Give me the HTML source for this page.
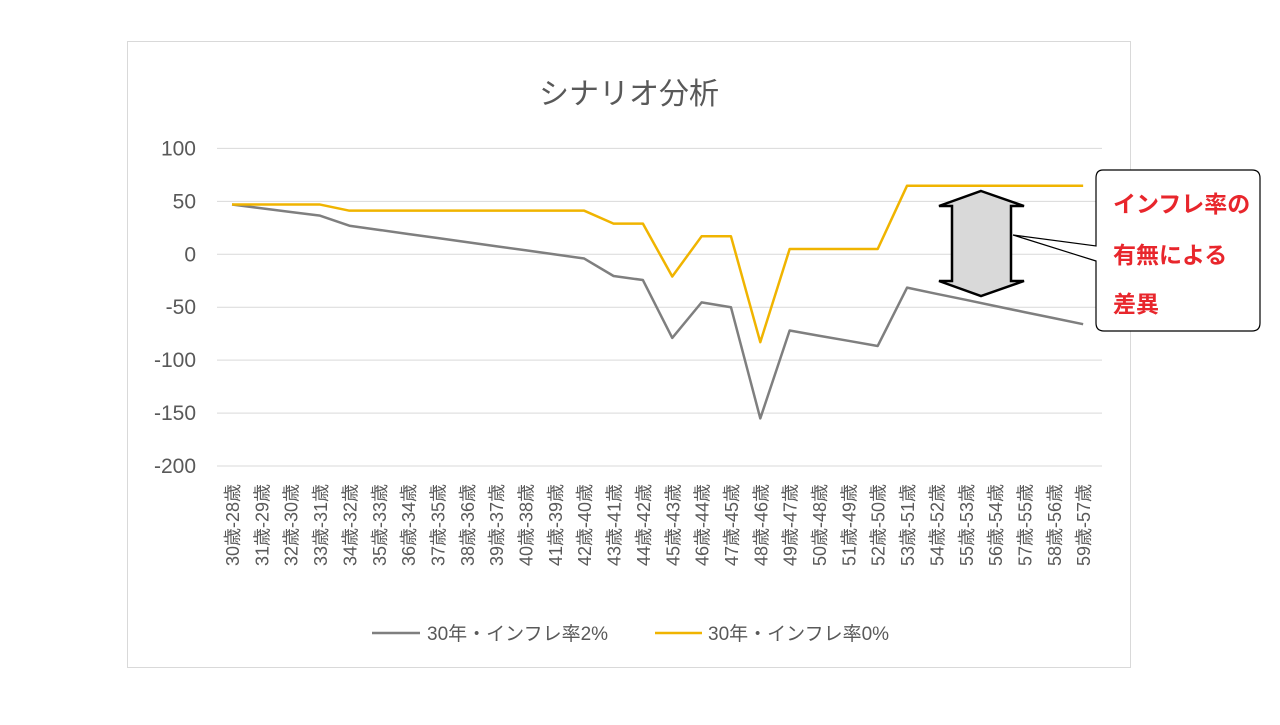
<!DOCTYPE html>
<html><head><meta charset="utf-8">
<style>
body{margin:0;background:#fff;width:1280px;height:720px;overflow:hidden;font-family:"Liberation Sans","Noto Sans CJK JP",sans-serif;}
svg text{font-family:"Liberation Sans","Noto Sans CJK JP",sans-serif;}
</style></head><body>
<svg id="chart" width="1280" height="720">
<rect x="127.5" y="41.5" width="1003" height="626" fill="#fff" stroke="#d9d9d9"/>
<text x="629" y="104" font-size="30" fill="#595959" text-anchor="middle">シナリオ分析</text>
<g id="grid"></g><g id="ylabels"></g><g id="xlabels"></g><g id="series"></g>
<g>
<line x1="372" y1="633" x2="420" y2="633" stroke="#7f7f7f" stroke-width="2.5"/>
<text x="427" y="640" font-size="19" fill="#595959">30年・インフレ率2%</text>
<line x1="655" y1="633" x2="702" y2="633" stroke="#f0b400" stroke-width="2.5"/>
<text x="708" y="640" font-size="19" fill="#595959">30年・インフレ率0%</text>
</g>
<polygon points="981,191 1024,206 1011,206 1011,281 1024,281 981,296 939,281 952,281 952,206 939,206" fill="#d9d9d9" stroke="#000" stroke-width="2.5" stroke-linejoin="miter"/>
<path d="M1103,170 H1252 Q1260,170 1260,178 V323 Q1260,331 1252,331 H1104 Q1096,331 1096,323 V261 L1013,235 L1096,246 V178 Q1096,170 1103,170 Z" fill="#fff" stroke="#000" stroke-width="1.2"/>
<g font-size="23" font-weight="bold" fill="#e8262c">
<text x="1113" y="212">インフレ率の</text>
<text x="1113" y="263">有無による</text>
<text x="1113" y="312">差異</text>
</g>
</svg>
<script>
const categories=["30歳-28歳","31歳-29歳","32歳-30歳","33歳-31歳","34歳-32歳","35歳-33歳","36歳-34歳","37歳-35歳","38歳-36歳","39歳-37歳","40歳-38歳","41歳-39歳","42歳-40歳","43歳-41歳","44歳-42歳","45歳-43歳","46歳-44歳","47歳-45歳","48歳-46歳","49歳-47歳","50歳-48歳","51歳-49歳","52歳-50歳","53歳-51歳","54歳-52歳","55歳-53歳","56歳-54歳","57歳-55歳","58歳-56歳","59歳-57歳"];
const inflation2=[47,43.5,40,36.5,27,23.1,19.2,15.4,11.5,7.6,3.8,-0.1,-4,-20.5,-24.3,-79,-45.4,-50,-155,-72,-76.9,-81.7,-86.6,-31.5,-37.3,-43,-48.8,-54.6,-60.3,-66];
const inflation0=[47,47,47,47,41.2,41.2,41.2,41.2,41.2,41.2,41.2,41.2,41.2,29,29,-21,17,17,-83,5,5,5,5,64.8,64.8,64.8,64.8,64.8,64.8,64.8];
const yTicks=[100,50,0,-50,-100,-150,-200];
const NS="http://www.w3.org/2000/svg";
const y=v=>254.3-v*1.0587;
const x=i=>232+i*29.35;
function mk(t,a,p){const e=document.createElementNS(NS,t);for(const k in a)e.setAttribute(k,a[k]);document.getElementById(p).appendChild(e);return e;}
yTicks.forEach(v=>{
 const l=mk('line',{x1:217,x2:1102,y1:y(v),y2:y(v),stroke:'#d9d9d9','stroke-width':1},'grid');
 
 
 const t=mk('text',{x:196,y:y(v)+7,'font-size':21,fill:'#595959','text-anchor':'end'},'ylabels');
 t.textContent=v;
 
 
});
categories.forEach((c,i)=>{
 const t=mk('text',{x:0,y:0,'font-size':18,fill:'#595959','text-anchor':'end',transform:`translate(${x(i)+7},484) rotate(-90)`},'xlabels');
 t.textContent=c;
 
 
});
[[inflation2,'#7f7f7f','line-inflation-2'],[inflation0,'#f0b400','line-inflation-0']].forEach(([d,col,n])=>{
 const p=mk('polyline',{points:d.map((v,i)=>x(i)+','+y(v)).join(' '),fill:'none',stroke:col,'stroke-width':2.5,'stroke-linejoin':'round'},'series');
 
 
});
</script>
</body></html>
